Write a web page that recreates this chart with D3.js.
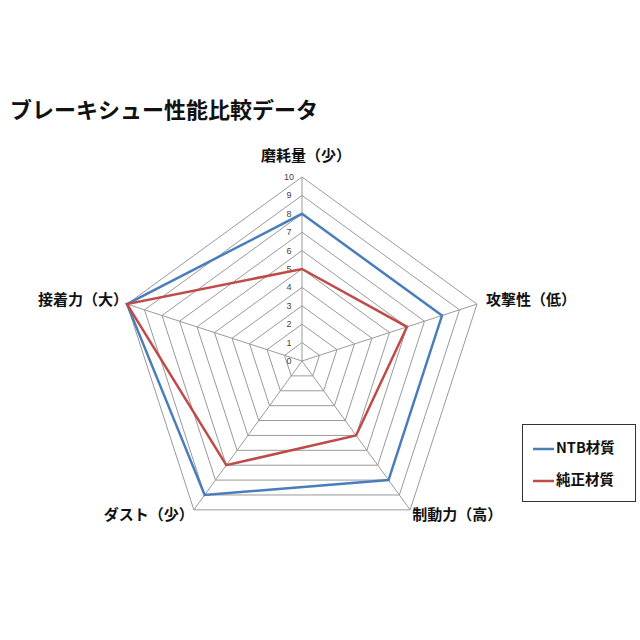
<!DOCTYPE html>
<html><head><meta charset="utf-8">
<script src="https://cdn.jsdelivr.net/npm/d3@7"></script>
<style>body{margin:0;background:#fff}svg{display:block}</style>
</head><body>
<svg id="c" width="640" height="640"></svg>
<script>
const categories = ["磨耗量（少）","攻撃性（低）","制動力（高）","ダスト（少）","接着力（大）"];
const seriesNames = ["NTB材質","純正材質"];
const ntbValues = [8,8,8,9,10];
const oemValues = [5,6,5,7,10];
const tickLabels = [0,1,2,3,4,5,6,7,8,9,10];
const colors = ["#4A7EBB","#BE4B48"];

const svg = d3.select("#c");
const font = "'Noto Sans CJK JP','Noto Sans',sans-serif";
const cx = 302, cy = 361, R = 184;
const r = d3.scaleLinear().domain([0,10]).range([0,R]);
const ang = d3.scaleLinear().domain([0,categories.length]).range([0,2*Math.PI]);
const pt = (i,v)=>[cx + r(v)*Math.sin(ang(i)), cy - r(v)*Math.cos(ang(i))];

svg.append("text").attr("x",10).attr("y",118).attr("font-family",font)
  .attr("font-size",22).attr("font-weight","bold").attr("fill","#111")
  .text("ブレーキシュー性能比較データ");

const grid = svg.append("g");
tickLabels.slice(1).forEach(t=>{
  grid.append("path").attr("d", d3.line()(categories.map((c,i)=>pt(i,t))) + "Z")
    .attr("fill","none").attr("stroke","#9a9a9a").attr("stroke-width",1);
});
categories.forEach((c,i)=>{
  grid.append("line").attr("x1",cx).attr("y1",cy)
    .attr("x2",pt(i,10)[0]).attr("y2",pt(i,10)[1])
    .attr("stroke","#9a9a9a").attr("stroke-width",1);
});
tickLabels.forEach(t=>{
  svg.append("text").attr("x",cx-13).attr("y",cy - r(t)+3)
    .attr("text-anchor","middle").attr("font-family","'Liberation Sans',Arial,sans-serif")
    .attr("font-size",9).attr("fill","#444").text(t);
});

const lblPos = [
  {dx:4, dy:-20, anchor:"middle"},
  {dx:9, dy:-3, anchor:"start"},
  {dx:2, dy:6, anchor:"start"},
  {dx:0, dy:6, anchor:"end"},
  {dx:1, dy:-3, anchor:"end"}
];
categories.forEach((c,i)=>{
  const p = pt(i,10);
  svg.append("text").attr("x",p[0]+lblPos[i].dx).attr("y",p[1]+lblPos[i].dy)
    .attr("dominant-baseline","middle").attr("text-anchor",lblPos[i].anchor)
    .attr("font-family",font).attr("font-size",15).attr("font-weight","bold")
    .attr("fill","#111").text(c);
});

[ntbValues, oemValues].forEach((vals,k)=>{
  svg.append("path").attr("d", d3.line()(vals.map((v,i)=>pt(i,v))) + "Z")
    .attr("fill","none").attr("stroke",colors[k]).attr("stroke-width",2.5)
    .attr("stroke-linejoin","miter");
});

const lg = svg.append("g");
lg.append("rect").attr("x",522.5).attr("y",424.5).attr("width",113).attr("height",77)
  .attr("fill","#fff").attr("stroke","#333").attr("stroke-width",1);
seriesNames.forEach((s,k)=>{
  const y = 449 + k*32;
  lg.append("line").attr("x1",533).attr("x2",554).attr("y1",y).attr("y2",y)
    .attr("stroke",colors[k]).attr("stroke-width",2.5);
  lg.append("text").attr("x",556).attr("y",y).attr("dominant-baseline","middle")
    .attr("font-family",font).attr("font-size",14.5).attr("font-weight","bold")
    .attr("fill","#111").text(s);
});
</script>
</body></html>
